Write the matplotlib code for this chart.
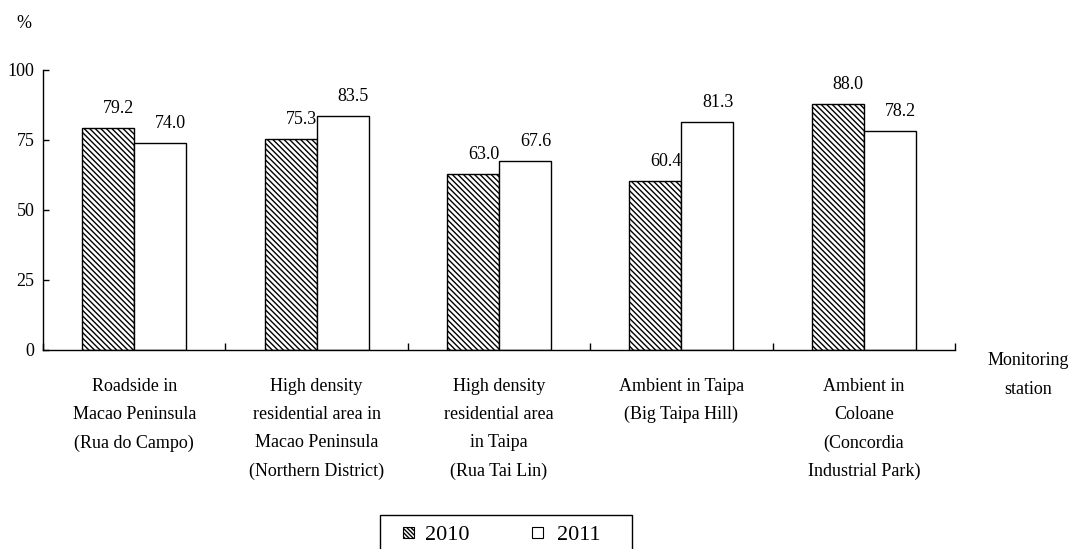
import numpy as np
import matplotlib.pyplot as plt
from matplotlib.patches import Rectangle

plt.rcParams['font.family'] = ['Liberation Serif', 'DejaVu Serif']
plt.rcParams['hatch.linewidth'] = 1.0

stations = [
    "Roadside in\nMacao Peninsula\n(Rua do Campo)",
    "High density\nresidential area in\nMacao Peninsula\n(Northern District)",
    "High density\nresidential area\nin Taipa\n(Rua Tai Lin)",
    "Ambient in Taipa\n(Big Taipa Hill)",
    "Ambient in\nColoane\n(Concordia\nIndustrial Park)",
]
years = ['2010', '2011']
vals_2010 = [79.2, 75.3, 63.0, 60.4, 88.0]
vals_2011 = [74.0, 83.5, 67.6, 81.3, 78.2]
yticks = [0, 25, 50, 75, 100]

HATCH = '\\' * 6
FS = 13

fig = plt.figure(figsize=(10.71, 5.49), dpi=100)
W, H = 1071, 549
ax = fig.add_axes([43 / W, 199 / H, (955 - 43) / W, 280 / H])

x = np.arange(len(stations))
bw = 0.285
b1 = ax.bar(x - bw / 2, vals_2010, bw, facecolor='white', edgecolor='black',
            hatch=HATCH, linewidth=1.0)
b2 = ax.bar(x + bw / 2, vals_2011, bw, facecolor='white', edgecolor='black',
            linewidth=1.0)

for bars, vals in ((b1, vals_2010), (b2, vals_2011)):
    for r, v in zip(bars, vals):
        ax.annotate(f"{v:.1f}", (r.get_x() + r.get_width() / 2, v),
                    xytext=(7.5, 10.8), textcoords='offset points',
                    ha='center', va='baseline', fontsize=FS)

ax.set_xlim(-0.5, len(stations) - 0.5)
ax.set_ylim(0, 100)
ax.set_yticks(yticks)
ax.tick_params(axis='y', direction='in', length=4.5, width=1, labelsize=FS, pad=6)

# category boundaries as upward ticks, labels as minor ticks
ax.set_xticks(np.arange(len(stations) + 1) - 0.5)
ax.set_xticklabels([])
ax.tick_params(axis='x', which='major', direction='in', length=5, width=1)
ax.set_xticks(x, minor=True)
ax.set_xticklabels(stations, minor=True, fontsize=FS, linespacing=1.86,
                   va='top')
ax.tick_params(axis='x', which='minor', length=0, pad=20)

for s in ('top', 'right'):
    ax.spines[s].set_visible(False)
for s in ('left', 'bottom'):
    ax.spines[s].set_linewidth(1)

fig.text(24 / W, 1 - 24 / H, "%", fontsize=FS, ha='center', va='center')
fig.text(1028 / W, 1 - 375 / H, "Monitoring\nstation", fontsize=FS,
         ha='center', va='center', linespacing=1.9)

# legend box, open at the bottom edge of the figure
def fx(px):
    return px / W

def fy(py):
    return 1 - py / H

fig.patches.append(Rectangle((fx(380), fy(565)), fx(632) - fx(380), fy(515) - fy(565),
                             transform=fig.transFigure, fill=False,
                             edgecolor='black', linewidth=1))
key_x = [403, 532]
text_x = [425, 557]
for i, yr in enumerate(years):
    fig.patches.append(Rectangle((fx(key_x[i]), fy(538)), 11 / W, 11 / H,
                                 transform=fig.transFigure, facecolor='white',
                                 edgecolor='black', linewidth=0.8,
                                 hatch='\\' * 8 if i == 0 else None))
    fig.text(fx(text_x[i]), fy(540), yr, fontsize=16, ha='left', va='baseline')

fig.savefig('out.png', dpi=100)
